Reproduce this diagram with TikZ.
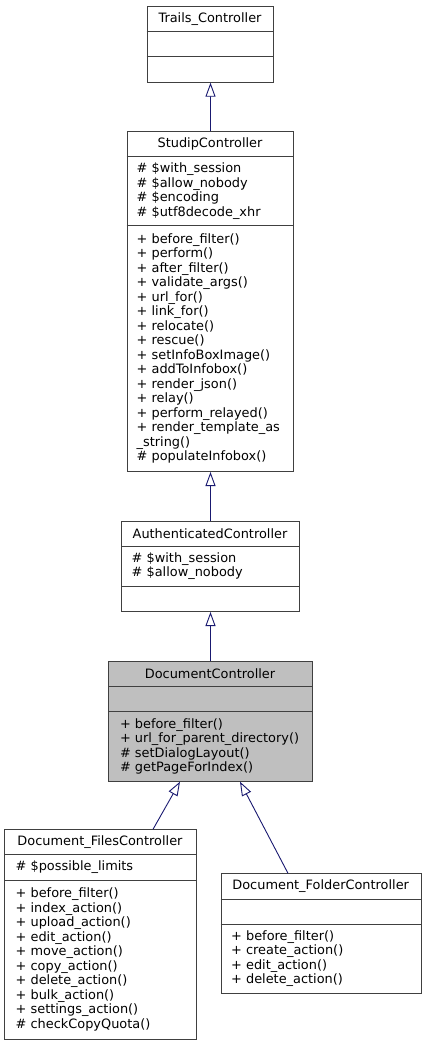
\documentclass[tikz,border=0pt]{standalone}
\usepackage{fontspec}
\setmainfont{DejaVu Sans}
\usetikzlibrary{arrows.meta,calc}
\definecolor{edgeblue}{RGB}{25,25,112}
\definecolor{boxline}{RGB}{64,64,64}
\definecolor{docfill}{RGB}{191,191,191}
\tikzset{
  box/.style={draw=boxline, line width=1pt, rectangle, inner sep=0pt, anchor=north west},
  div/.style={draw=boxline, line width=1pt},
  ttl/.style={inner sep=0pt, font=\fontsize{12.9}{14.5}\selectfont},
  mem/.style={inner sep=0pt, anchor=west, align=left, font=\fontsize{12.9}{14.5}\selectfont},
  inh/.style={draw=edgeblue, line width=0.9pt, -{Triangle[open, length=14pt, width=10pt, fill=white]}}
}
\begin{document}
\begin{tikzpicture}[x=1pt,y=-1pt]
\useasboundingbox (0,0) rectangle (426,1044);

% Trails_Controller
\node[box, minimum width=126.6pt, minimum height=76pt] (trails) at (146.7,5.7) {};
\draw[div] (146.7,31.7) -- (273.3,31.7);
\draw[div] (146.7,56.7) -- (273.3,56.7);
\node[ttl] (trailsT) at (210,18.7) {Trails\_Controller};

% StudipController
\node[box, minimum width=166.6pt, minimum height=340pt] (studip) at (126.7,131) {};
\draw[div] (126.7,156.7) -- (293.3,156.7);
\draw[div] (126.7,225.7) -- (293.3,225.7);
\node[ttl] (studipT) at (210,143.8) {StudipController};
\node[mem] (studipA) at (136.5,191.2) {\# \$with\_session\\\# \$allow\_nobody\\\# \$encoding\\\# \$utf8decode\_xhr};
\node[mem] (studipM) at (136.5,348.3) {+ before\_filter()\\+ perform()\\+ after\_filter()\\+ validate\_args()\\+ url\_for()\\+ link\_for()\\+ relocate()\\+ rescue()\\+ setInfoBoxImage()\\+ addToInfobox()\\+ render\_json()\\+ relay()\\+ perform\_relayed()\\+ render\_template\_as\\\_string()\\\# populateInfobox()};

% AuthenticatedController
\node[box, minimum width=178pt, minimum height=90.3pt] (auth) at (121,520.7) {};
\draw[div] (121,546) -- (299,546);
\draw[div] (121,586) -- (299,586);
\node[ttl] (authT) at (210,533.3) {AuthenticatedController};
\node[mem] (authA) at (131.5,566) {\# \$with\_session\\\# \$allow\_nobody};

% DocumentController
\node[box, fill=docfill, minimum width=203.4pt, minimum height=120pt] (doc) at (108.3,660.7) {};
\draw[div] (108.3,686.7) -- (311.7,686.7);
\draw[div] (108.3,711.7) -- (311.7,711.7);
\node[ttl] (docT) at (210,673.7) {DocumentController};
\node[mem] (docM) at (119.8,746.2) {+ before\_filter()\\+ url\_for\_parent\_directory()\\\# setDialogLayout()\\\# getPageForIndex()};

% Document_FilesController
\node[box, minimum width=192pt, minimum height=209.7pt] (files) at (4,829.3) {};
\draw[div] (4,854.3) -- (196,854.3);
\draw[div] (4,880) -- (196,880);
\node[ttl] (filesT) at (100,841.8) {Document\_FilesController};
\node[mem] (filesA) at (15.5,867.2) {\# \$possible\_limits};
\node[mem] (filesM) at (15.5,959.5) {+ before\_filter()\\+ index\_action()\\+ upload\_action()\\+ edit\_action()\\+ move\_action()\\+ copy\_action()\\+ delete\_action()\\+ bulk\_action()\\+ settings\_action()\\\# checkCopyQuota()};

% Document_FolderController
\node[box, minimum width=200pt, minimum height=120pt] (folder) at (220.7,873.3) {};
\draw[div] (220.7,899.3) -- (420.7,899.3);
\draw[div] (220.7,924) -- (420.7,924);
\node[ttl] (folderT) at (320.7,886.3) {Document\_FolderController};
\node[mem] (folderM) at (231,958.7) {+ before\_filter()\\+ create\_action()\\+ edit\_action()\\+ delete\_action()};

% inheritance
\draw[inh] (studip.north) -- (trails.south);
\draw[inh] (auth.north) -- (studip.south);
\draw[inh] (doc.north) -- (auth.south);
\draw[inh] ([xshift=149pt]files.north west) -- ([xshift=71.7pt]doc.south west);
\draw[inh] ([xshift=67.3pt]folder.north west) -- ([xshift=131.7pt]doc.south west);
\end{tikzpicture}
\end{document}
